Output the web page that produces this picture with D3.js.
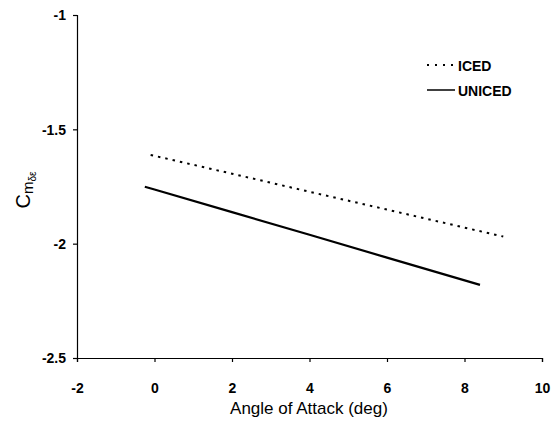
<!DOCTYPE html>
<html><head><meta charset="utf-8">
<script src="https://cdn.jsdelivr.net/npm/d3@7"></script>
<style>body{margin:0;background:#fff}</style>
</head><body>
<script>
const xTicks = [-2, 0, 2, 4, 6, 8, 10];
const yTicks = [-2.5, -2, -1.5, -1];
const icedX = [-0.1, 2, 4, 6, 9];
const icedY = [-1.612, -1.694, -1.773, -1.851, -1.969];
const unicedX = [-0.25, 0, 2, 4, 6, 8.4];
const unicedY = [-1.751, -1.763, -1.862, -1.961, -2.061, -2.18];
const seriesNames = ["ICED", "UNICED"];

const W = 553, H = 427;
const svg = d3.select("body").append("svg").attr("width", W).attr("height", H);
const x = d3.scaleLinear().domain([-2, 10]).range([77, 542]);
const y = d3.scaleLinear().domain([-2.5, -1]).range([358, 15]);
const font = "'Liberation Sans', Arial, sans-serif";

const xa = svg.append("g").attr("transform", "translate(0,358)")
  .call(d3.axisBottom(x).tickValues(xTicks).tickSize(4).tickFormat(d => String(d)));
const ya = svg.append("g").attr("transform", "translate(77,0)")
  .call(d3.axisLeft(y).tickValues(yTicks).tickSize(4).tickFormat(d => String(d)));
[xa, ya].forEach(a => {
  a.selectAll("path,line").attr("stroke", "#000").attr("stroke-width", 1.2);
  a.selectAll("text").attr("font-family", font).attr("font-weight", "bold")
    .attr("font-size", 14).attr("fill", "#000");
});
xa.selectAll("text").attr("y", 35).attr("dy", "0");
ya.selectAll("text").attr("x", -11).attr("dy", "0.35em");

const line = d3.line().x(d => x(d[0])).y(d => y(d[1]));
svg.append("path").datum(d3.zip(icedX, icedY)).attr("d", line)
  .attr("fill", "none").attr("stroke", "#000").attr("stroke-width", 2).attr("stroke-dasharray", "2.5,5");
svg.append("path").datum(d3.zip(unicedX, unicedY)).attr("d", line)
  .attr("fill", "none").attr("stroke", "#000").attr("stroke-width", 2.2);

// legend
const lg = svg.append("g");
lg.append("line").attr("x1", 427).attr("x2", 455).attr("y1", 65).attr("y2", 65)
  .attr("stroke", "#000").attr("stroke-width", 2).attr("stroke-dasharray", "2,6");
lg.append("line").attr("x1", 427).attr("x2", 455).attr("y1", 90).attr("y2", 90)
  .attr("stroke", "#000").attr("stroke-width", 1.5);
lg.append("text").attr("x", 458).attr("y", 71).text(seriesNames[0]);
lg.append("text").attr("x", 458).attr("y", 96).text(seriesNames[1]);
lg.selectAll("text").attr("font-family", font).attr("font-weight", "bold").attr("font-size", 14);

// axis titles
svg.append("text").attr("x", 309).attr("y", 414).attr("text-anchor", "middle")
  .attr("font-family", font).attr("font-size", 17).text("Angle of Attack (deg)");
const yt = svg.append("text").attr("transform", "translate(30,190) rotate(-90)")
  .attr("text-anchor", "middle").attr("font-family", font);
yt.append("tspan").attr("font-size", 20).text("C");
yt.append("tspan").attr("font-size", 15).attr("dy", 3).text("m");
yt.append("tspan").attr("font-size", 10).attr("dy", 3).text("δε");
</script>
</body></html>
